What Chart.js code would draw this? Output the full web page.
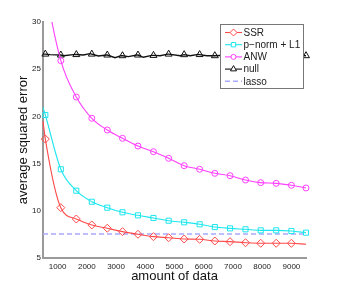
<!DOCTYPE html>
<html>
<head>
<meta charset="utf-8">
<script src="https://cdn.jsdelivr.net/npm/chart.js"></script>
<style>
  html, body { margin: 0; padding: 0; background: #fff; }
  #wrap { width: 338px; height: 291px; }
</style>
</head>
<body>
<div id="wrap"><canvas id="chart" width="338" height="291"></canvas></div>
<script>
// Values
const xTicks = [1000, 2000, 3000, 4000, 5000, 6000, 7000, 8000, 9000];
const yTicks = [5, 10, 15, 20, 25, 30];

const markerX = [580, 1110, 1640, 2170, 2700, 3220, 3750, 4280, 4800,
                 5330, 5860, 6380, 6900, 7430, 7950, 8480, 9000, 9500];

const ssrX = [500, 580, 1110, 1640, 2170, 2700, 3220, 3750, 4280, 4800,
              5330, 5860, 6380, 6900, 7430, 7950, 8480, 9000, 9500];
const ssrY = [19.5, 17.6, 10.33, 9.13, 8.5, 8.15, 7.79, 7.51, 7.26, 7.15,
              7.01, 6.98, 6.8, 6.73, 6.62, 6.56, 6.56, 6.56, 6.45];
const ssrMarks = markerX.slice(0, 17);

const pnormX = ssrX;
const pnormY = [20.96, 20.15, 14.4, 12.13, 10.96, 10.33, 9.84, 9.52, 9.24, 8.95,
                8.78, 8.57, 8.28, 8.14, 8.04, 7.93, 7.93, 7.86, 7.68];

const anwX = ssrX;
const anwY = [35.5, 33.8, 25.9, 22.05, 19.8, 18.56, 17.68, 16.86, 16.26, 15.56,
              14.78, 14.4, 13.97, 13.72, 13.26, 12.98, 12.91, 12.7, 12.42];

const nullX = [500, 580, 740, 1110, 1195, 1538, 1640, 1880, 2110, 2170, 2394, 2680,
               2700, 2966, 3171, 3220, 3422, 3709, 3750, 3935, 4223, 4280, 4507, 4771,
               4800, 5192, 5330, 5534, 5818, 5860, 6106, 6380, 6900, 7430, 7950, 8480,
               9000, 9500];
const nullY = [26.6, 26.6, 26.54, 26.5, 26.43, 26.54, 26.55, 26.5, 26.65, 26.6, 26.4, 26.5,
               26.5, 26.22, 26.43, 26.43, 26.33, 26.5, 26.5, 26.26, 26.46, 26.46, 26.43, 26.6,
               26.6, 26.43, 26.54, 26.43, 26.57, 26.55, 26.43, 26.43, 26.5, 26.45, 26.5, 26.45,
               26.5, 26.43];

const lassoX = [500, 9500];
const lassoY = [7.55, 7.55];

const toPoints = (xs, ys) => xs.map((x, i) => ({ x: x, y: ys[i] }));
const markAt = (marks, r) => ctx => (ctx.raw && marks.includes(ctx.raw.x)) ? r : 0;

const seriesDefs = [
    { label: 'SSR', xs: ssrX, ys: ssrY, marks: ssrMarks, color: '#ff4a4a', style: 'rectRot', r: 4, smooth: true },
    { label: 'p\u2212norm + L1', xs: pnormX, ys: pnormY, marks: markerX, color: '#1ee6ee', style: 'rect', r: 3.6, smooth: true },
    { label: 'ANW', xs: anwX, ys: anwY, marks: markerX, color: '#ff40ff', style: 'circle', r: 3, smooth: true },
    { label: 'null', xs: nullX, ys: nullY, marks: markerX, color: '#111111', style: 'triangle', r: 4, smooth: false },
    { label: 'lasso', xs: lassoX, ys: lassoY, marks: [], color: '#a8a8ff', style: false, r: 0, smooth: false, dash: [5, 3] }
];

const datasets = seriesDefs.map(s => ({
    label: s.label,
    data: toPoints(s.xs, s.ys),
    borderColor: s.color,
    backgroundColor: 'rgba(0,0,0,0)',
    borderWidth: s.dash ? 1.6 : (s.smooth ? 1.1 : 1.4),
    borderDash: s.dash || [],
    pointStyle: s.style,
    pointRadius: markAt(s.marks, s.r),
    pointBorderColor: s.color,
    pointBorderWidth: 1,
    pointBackgroundColor: 'rgba(0,0,0,0)',
    pointHoverRadius: 0,
    cubicInterpolationMode: s.smooth ? 'monotone' : 'default',
    tension: 0,
    clip: { left: 6, right: 8, top: 0, bottom: 6 }
}));

// Matlab style legend: line sample with marker in the middle
const legendBox = {
    id: 'legendBox',
    afterDraw(chart) {
        const ctx = chart.ctx;
        const x0 = 220, y0 = 24, w = 83, h = 64;
        ctx.save();
        ctx.fillStyle = '#fff';
        ctx.fillRect(x0, y0, w, h);
        ctx.strokeStyle = '#777';
        ctx.lineWidth = 1;
        ctx.strokeRect(x0 + 0.5, y0 + 0.5, w, h);
        ctx.font = '10px "Liberation Sans", Arial, sans-serif';
        ctx.textBaseline = 'middle';
        seriesDefs.forEach((s, i) => {
            const y = 32.5 + i * 12.2;
            ctx.strokeStyle = s.color;
            ctx.lineWidth = s.dash ? 1.6 : 1.1;
            ctx.setLineDash(s.dash || []);
            ctx.beginPath();
            ctx.moveTo(225, y);
            ctx.lineTo(242, y);
            ctx.stroke();
            ctx.setLineDash([]);
            if (s.style && Chart.helpers && Chart.helpers.drawPoint) {
                ctx.fillStyle = '#fff';
                ctx.strokeStyle = s.color;
                ctx.lineWidth = 1;
                Chart.helpers.drawPoint(ctx, {
                    pointStyle: s.style, radius: s.r - 0.5, rotation: 0, borderWidth: 1
                }, 233.5, y);
            }
            ctx.fillStyle = '#222';
            ctx.fillText(s.label, 243.5, y + 0.5);
        });
        ctx.restore();
    }
};

new Chart(document.getElementById('chart'), {
    type: 'line',
    data: { datasets: datasets },
    plugins: [legendBox],
    options: {
        responsive: false,
        animation: false,
        events: [],
        layout: { padding: { top: 22, right: 32, left: 0, bottom: 0 } },
        plugins: { legend: { display: false }, tooltip: { enabled: false } },
        scales: {
            x: {
                type: 'linear',
                min: 500,
                max: 9500,
                afterBuildTicks: scale => { scale.ticks = xTicks.map(v => ({ value: v })); },
                afterFit: scale => { scale.height = 33; },
                grid: { display: true, drawOnChartArea: false, drawTicks: false },
                border: { color: '#9a9a9a', width: 2 },
                ticks: {
                    autoSkip: false, maxRotation: 0, padding: 4, color: '#222',
                    callback: v => String(v),
                    font: { family: '"Liberation Sans", Arial, sans-serif', size: 8 }
                },
                title: {
                    display: true, text: 'amount of data', color: '#111',
                    font: { family: '"Liberation Sans", Arial, sans-serif', size: 13 },
                    padding: { top: 0, bottom: 7 }
                }
            },
            y: {
                min: 5,
                max: 30,
                afterBuildTicks: scale => { scale.ticks = yTicks.map(v => ({ value: v })); },
                afterFit: scale => { scale.width = 43; },
                grid: { display: true, drawOnChartArea: false, drawTicks: false },
                border: { color: '#9a9a9a', width: 2 },
                ticks: {
                    autoSkip: false, padding: 2, color: '#222',
                    callback: v => String(v),
                    font: { family: '"Liberation Sans", Arial, sans-serif', size: 8 }
                },
                title: {
                    display: true, text: 'average squared error', color: '#111',
                    font: { family: '"Liberation Sans", Arial, sans-serif', size: 13 },
                    padding: { top: 16, bottom: 0 }
                }
            }
        }
    }
});
</script>
</body>
</html>
